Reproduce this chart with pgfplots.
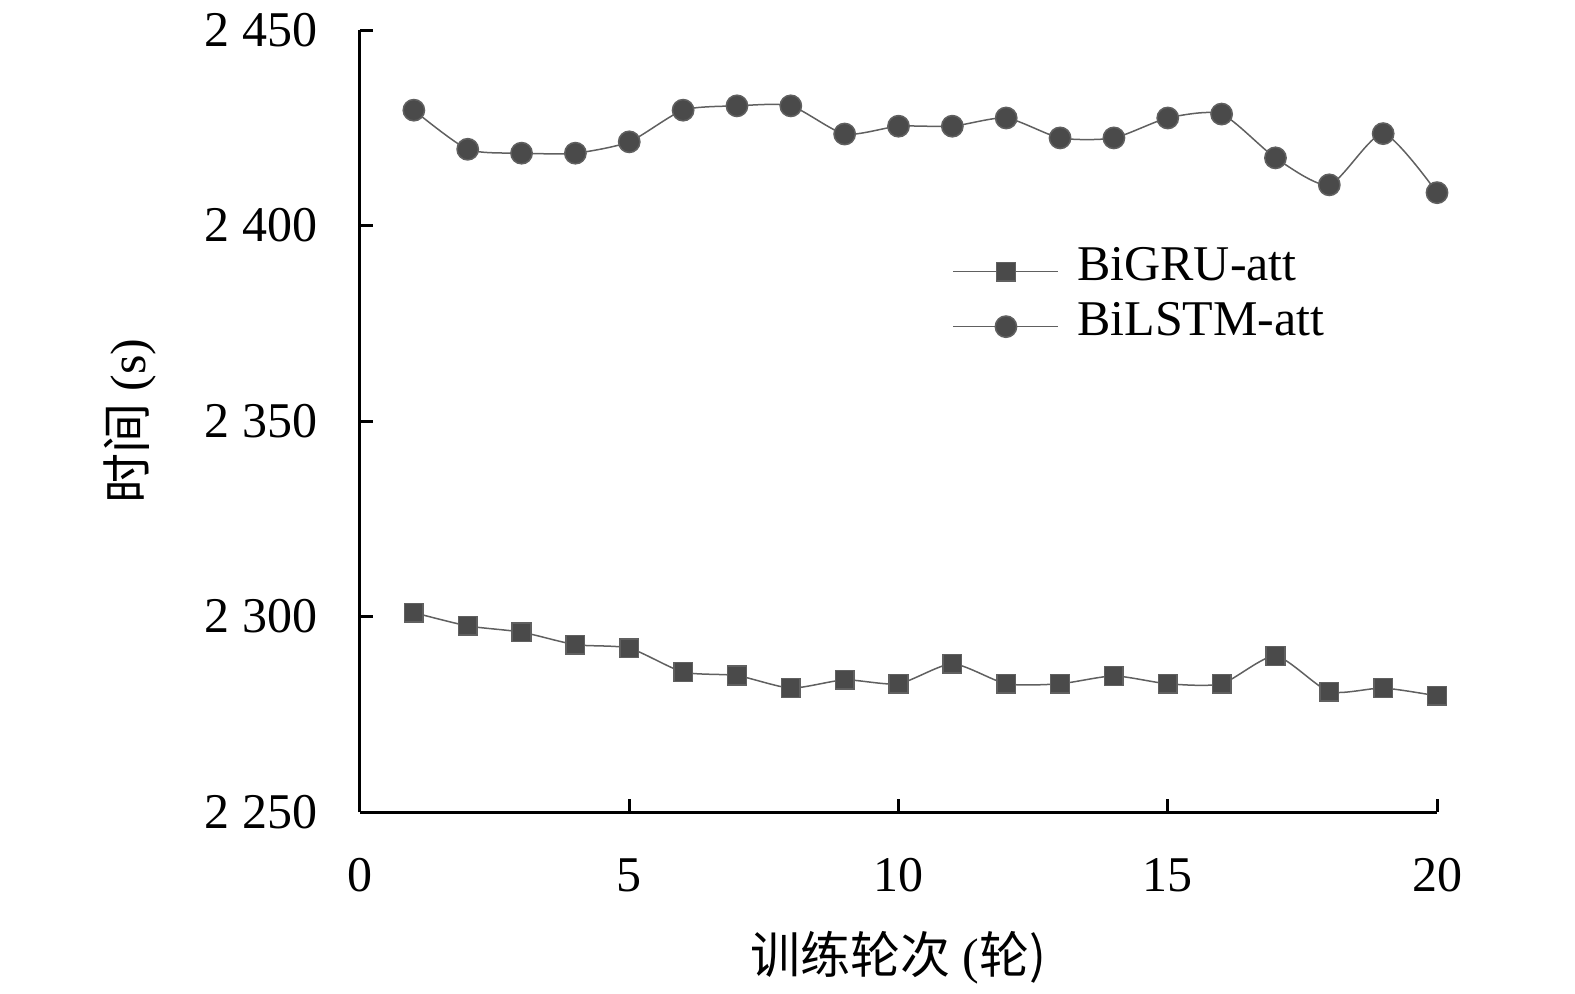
\documentclass[border=0pt]{standalone}
\usepackage{pgfplots}
\pgfplotsset{compat=1.18}
\usepackage{fontspec}
\setmainfont{Liberation Serif}
\newfontfamily\cjk{Noto Sans CJK SC}
\definecolor{mk}{HTML}{4A4A4A}
\definecolor{ln}{HTML}{606060}
\begin{document}
\begin{tikzpicture}
\useasboundingbox (-108pt,-54.3pt) rectangle (364.5pt,243.6pt);
\begin{axis}[
  at={(0,0)}, anchor=south west,
  scale only axis, width=323.1pt, height=234.6pt,
  xmin=0, xmax=20, ymin=2250, ymax=2450,
  xtick={0,5,10,15,20}, ytick={2250,2300,2350,2400,2450},
  axis lines*=left,
  axis line style={line width=0.9pt, black, -},
  tick align=inside,
  major tick length=4pt,
  tick style={line width=0.9pt, black},
  /pgf/number format/assume math mode=true,
  /pgf/number format/1000 sep={\ },
  tick label style={font=\fontsize{15}{18}\selectfont, inner sep=0pt},
  yticklabel style={xshift=-12.6pt},
  xticklabel style={yshift=-13.8pt},
  xlabel={{\cjk 训练轮次} (\cjk 轮)},
  ylabel={{\cjk 时间} (s)},
  label style={font=\fontsize{15}{18}\selectfont},
  xlabel style={at={(axis description cs:0.5,-0.1867)}, anchor=center},
  ylabel style={at={(axis description cs:-0.2136,0.5)}, anchor=center},
  legend style={draw=none, fill=none, at={(axis description cs:0.5497,0.727)}, anchor=north west,
    font=\fontsize{15}{18}\selectfont, inner sep=0pt, row sep=0pt, column sep=5.4pt,
    nodes={inner sep=0pt, text height=11pt, text depth=5.5pt}},
  legend cell align=left,
  legend image code/.code={\draw[mark repeat=2,mark phase=2,#1] plot coordinates {(0pt,0pt)(15.75pt,0pt)(31.5pt,0pt)};},
]
\addplot[color=ln, line width=0.45pt, smooth, tension=0.4, mark=square*, mark size=2.8pt, mark options={draw=none, fill=mk}]
coordinates {
(1,2301.0)(2,2297.6)(3,2296.0)(4,2292.8)(5,2291.9)(6,2285.8)(7,2284.9)(8,2281.7)(9,2283.8)(10,2282.8)
(11,2287.9)(12,2282.8)(13,2282.8)(14,2284.8)(15,2282.8)(16,2282.8)(17,2289.9)(18,2280.8)(19,2281.7)(20,2279.7)
};
\addlegendentry{BiGRU-att}
\addplot[color=ln, line width=0.45pt, smooth, tension=0.4, mark=*, mark size=3.2pt, mark options={draw=none, fill=mk}]
coordinates {
(1,2429.5)(2,2419.5)(3,2418.5)(4,2418.5)(5,2421.4)(6,2429.5)(7,2430.6)(8,2430.6)(9,2423.4)(10,2425.4)
(11,2425.4)(12,2427.5)(13,2422.4)(14,2422.4)(15,2427.5)(16,2428.5)(17,2417.3)(18,2410.4)(19,2423.5)(20,2408.4)
};
\addlegendentry{BiLSTM-att}
\end{axis}
\end{tikzpicture}
\end{document}
